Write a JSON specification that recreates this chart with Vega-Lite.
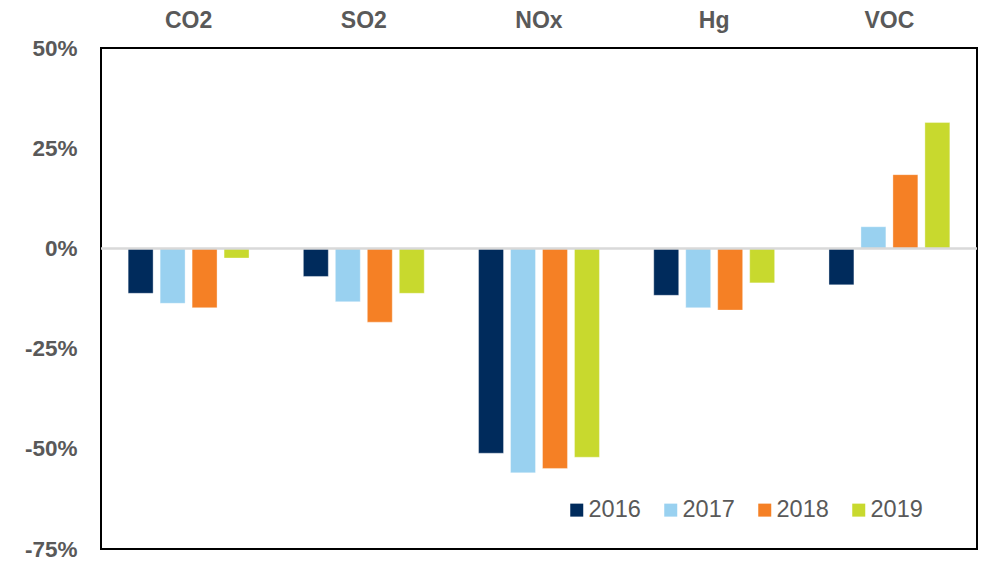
{
  "$schema": "https://vega.github.io/schema/vega-lite/v6.json",
  "width": 876,
  "height": 501,
  "autosize": {"type": "none"},
  "padding": {"left": 101, "top": 48, "right": 5, "bottom": 12},
  "background": "white",
  "config": {
    "font": "Liberation Sans",
    "view": {"stroke": "#000000", "strokeWidth": 2}
  },
  "data": {
    "values": [
      {"pollutant": "CO2", "year": "2016", "value": -11.2},
      {"pollutant": "CO2", "year": "2017", "value": -13.7},
      {"pollutant": "CO2", "year": "2018", "value": -14.8},
      {"pollutant": "CO2", "year": "2019", "value": -2.4},
      {"pollutant": "SO2", "year": "2016", "value": -7.0},
      {"pollutant": "SO2", "year": "2017", "value": -13.3},
      {"pollutant": "SO2", "year": "2018", "value": -18.4},
      {"pollutant": "SO2", "year": "2019", "value": -11.2},
      {"pollutant": "NOx", "year": "2016", "value": -51.1},
      {"pollutant": "NOx", "year": "2017", "value": -56.0},
      {"pollutant": "NOx", "year": "2018", "value": -54.9},
      {"pollutant": "NOx", "year": "2019", "value": -52.1},
      {"pollutant": "Hg", "year": "2016", "value": -11.7},
      {"pollutant": "Hg", "year": "2017", "value": -14.8},
      {"pollutant": "Hg", "year": "2018", "value": -15.4},
      {"pollutant": "Hg", "year": "2019", "value": -8.6},
      {"pollutant": "VOC", "year": "2016", "value": -9.1},
      {"pollutant": "VOC", "year": "2017", "value": 5.4},
      {"pollutant": "VOC", "year": "2018", "value": 18.4},
      {"pollutant": "VOC", "year": "2019", "value": 31.4}
    ]
  },
  "layer": [
    {
      "mark": {"type": "bar", "stroke": "white", "strokeOpacity": 0.35, "strokeWidth": 1},
      "encoding": {
        "x": {
          "field": "pollutant",
          "type": "nominal",
          "sort": ["CO2", "SO2", "NOx", "Hg", "VOC"],
          "scale": {"paddingInner": 0.27, "paddingOuter": 0.135},
          "axis": {
            "orient": "top",
            "title": null,
            "domain": false,
            "ticks": false,
            "labelAngle": 0,
            "labelFontSize": 23,
            "labelFontWeight": "bold",
            "labelColor": "#595959",
            "labelPadding": 16
          }
        },
        "xOffset": {
          "field": "year",
          "type": "nominal",
          "scale": {"paddingInner": 0.22, "paddingOuter": 0.11}
        },
        "y": {
          "field": "value",
          "type": "quantitative",
          "scale": {"domain": [-75, 50], "nice": false, "zero": false},
          "axis": {
            "title": null,
            "values": [-75, -50, -25, 0, 25, 50],
            "labelExpr": "datum.value + '%'",
            "domain": false,
            "ticks": false,
            "grid": false,
            "labelFontSize": 22.5,
            "labelFontWeight": "bold",
            "labelColor": "#595959",
            "labelPadding": 24
          }
        },
        "color": {
          "field": "year",
          "type": "nominal",
          "scale": {
            "domain": ["2016", "2017", "2018", "2019"],
            "range": ["#002b5c", "#99d1f0", "#f58025", "#c8d92e"]
          },
          "legend": {
            "title": null,
            "orient": "none",
            "direction": "horizontal",
            "legendX": 464,
            "legendY": 450,
            "padding": 0,
            "symbolType": "square",
            "symbolSize": 169,
            "symbolStrokeWidth": 0,
            "labelFontSize": 23.5,
            "labelColor": "#595959",
            "labelOffset": 0,
            "columnPadding": 18
          }
        }
      }
    },
    {
      "data": {"values": [{"zero": 0}]},
      "mark": {"type": "rule", "color": "#d9d9d9", "strokeWidth": 2.5},
      "encoding": {
        "y": {"field": "zero", "type": "quantitative"}
      }
    }
  ]
}
